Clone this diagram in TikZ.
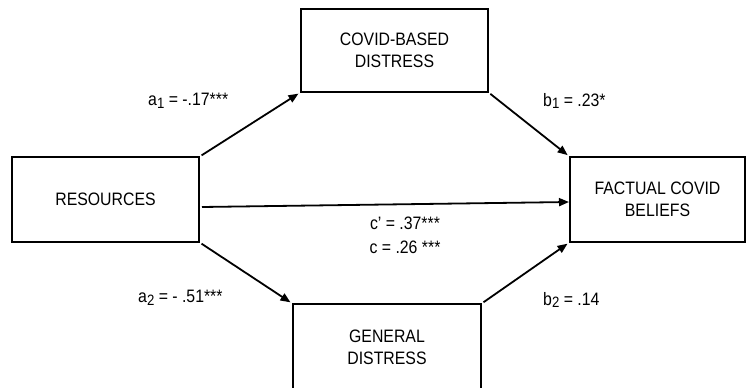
\documentclass[tikz,border=0pt]{standalone}
\usepackage{fontspec}
\setmainfont[FakeStretch=0.88]{Liberation Sans}
\usetikzlibrary{arrows.meta,calc}
\newcommand{\lsub}[1]{\raisebox{-0.3ex}{\fontsize{15}{15}\selectfont #1}}
\begin{document}
\begin{tikzpicture}[x=1pt,y=-1pt,
  box/.style={draw, line width=1.3pt, inner sep=0pt, outer sep=0pt, align=center,
    font=\fontsize{18}{22}\selectfont},
  lab/.style={inner sep=0pt, font=\fontsize{18}{24}\selectfont, align=center},
  arr/.style={line width=1.8pt, -{Triangle[length=10pt,width=8pt]}, shorten <=3pt, shorten >=3pt}]
\useasboundingbox (0,0) rectangle (748,388);
\fill[white] (0,0) rectangle (748,388);
\begin{scope}
\clip (0,0) rectangle (748,388);
\node[box, minimum width=187pt, minimum height=85pt] (res) at (105.5,199.5) {RESOURCES};
\node[box, minimum width=187pt, minimum height=83pt] (cov) at (394.5,50.5) {COVID-BASED\\DISTRESS};
\node[box, minimum width=175pt, minimum height=85pt] (fact) at (657.5,199.5) {FACTUAL COVID\\BELIEFS};
\node[box, minimum width=188pt, minimum height=86pt] (gen) at (387,347) {GENERAL\\DISTRESS};
\end{scope}
\draw[arr] (res.north east) -- (cov.south west);
\draw[arr] (cov.south east) -- (fact.north west);
\draw[arr] (res.south east) -- (gen.north west);
\draw[arr] (gen.north east) -- (fact.south west);
\coordinate (cs) at ($(res.east)+(3,7.5)$);
\coordinate (ce) at ($(fact.west)+(-1,2.5)$);
\draw[arr, shorten <=0pt, shorten >=0pt] (cs) -- (ce);
\node[lab, anchor=west] (la1) at (148,101) {a\lsub{1} = -.17***};
\node[lab, anchor=west] (lb1) at (543,101) {b\lsub{1} = .23*};
\node[lab] (lc) at (405,235) {c' = .37***\\c = .26 ***};
\node[lab, anchor=west] (la2) at (138,298) {a\lsub{2} = - .51***};
\node[lab, anchor=west] (lb2) at (543,300) {b\lsub{2} = .14};
\end{tikzpicture}
\end{document}
